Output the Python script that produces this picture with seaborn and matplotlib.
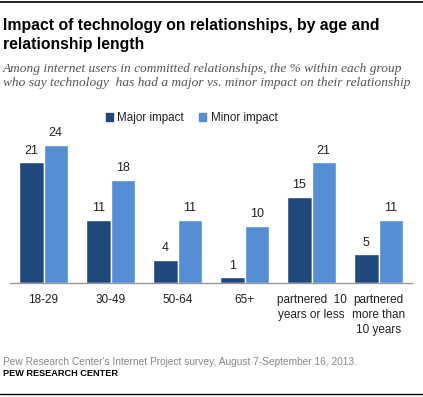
import pandas as pd
import matplotlib.pyplot as plt
import seaborn as sns

# values
groups = ['18-29', '30-49', '50-64', '65+', 'partnered  10\nyears or less', 'partnered\nmore than\n10 years']
major = [21, 11, 4, 1, 15, 5]
minor = [24, 18, 11, 10, 21, 11]
series = ['Major impact', 'Minor impact']
colors = ['#1F497D', '#558ED5']

df = pd.DataFrame({
    'group': groups * 2,
    'impact': [series[0]] * len(groups) + [series[1]] * len(groups),
    'value': major + minor,
})

sns.set_theme(style='white')
plt.rcParams['font.family'] = ['Liberation Sans', 'DejaVu Sans']

fig = plt.figure(figsize=(4.23, 3.97), dpi=100)
ax = fig.add_axes([10 / 423, 114 / 397, 402 / 423, 172.5 / 397])

sns.barplot(data=df, x='group', y='value', hue='impact', palette=colors,
            width=0.73, saturation=1, ax=ax, legend=False)

for cont in ax.containers:
    ax.bar_label(cont, padding=4, fontsize=9, color='#222222')

ax.set_ylim(0, 30)
ax.set_xlim(-0.5, len(groups) - 0.5)
ax.set_xlabel('')
ax.set_ylabel('')
ax.set_yticks([])
ax.tick_params(axis='x', length=0, pad=8, labelsize=8.5, labelcolor='#222222')
for lab in ax.get_xticklabels():
    lab.set_linespacing(1.3)
    lab.set_verticalalignment('top')
for s in ['top', 'left', 'right']:
    ax.spines[s].set_visible(False)
ax.spines['bottom'].set_color('#999999')
ax.spines['bottom'].set_linewidth(1)

# legend
handles = [plt.Rectangle((0, 0), 1, 1, color=c) for c in colors]
fig.legend(handles, series, loc='center left', bbox_to_anchor=(95 / 423, 1 - 118 / 397),
           ncol=2, frameon=False, fontsize=8.4, handlelength=0.6, handleheight=0.6,
           handletextpad=0.4, columnspacing=1.3, labelcolor='#222222')

# title and subtitle
fig.text(3 / 423, 1 - 18 / 397, 'Impact of technology on relationships, by age and\nrelationship length',
         fontsize=11.3, fontweight='bold', va='top', ha='left', color='#000000',
         linespacing=1.3)
fig.text(3 / 423, 1 - 63 / 397,
         'Among internet users in committed relationships, the % within each group\n'
         'who say technology  has had a major vs. minor impact on their relationship',
         fontsize=9.6, style='italic', va='top', ha='left', color='#555555',
         linespacing=1.27, family=['Liberation Serif', 'DejaVu Serif'])

# footer
fig.text(3 / 423, 1 - 362 / 397,
         "Pew Research Center's Internet Project survey, August 7-September 16, 2013.",
         fontsize=7.3, va='center', ha='left', color='#888888')
fig.text(3 / 423, 1 - 374 / 397, 'PEW RESEARCH CENTER', fontsize=6.6, fontweight='bold',
         va='center', ha='left', color='#000000')

# rules at top and bottom
fig.add_artist(plt.Line2D([0, 1], [1 - 1.5 / 397, 1 - 1.5 / 397], color='#000000', lw=1.2))
fig.add_artist(plt.Line2D([0, 1], [1 - 394 / 397, 1 - 394 / 397], color='#000000', lw=1.0))

fig.savefig('out.png', dpi=100, facecolor='white')
